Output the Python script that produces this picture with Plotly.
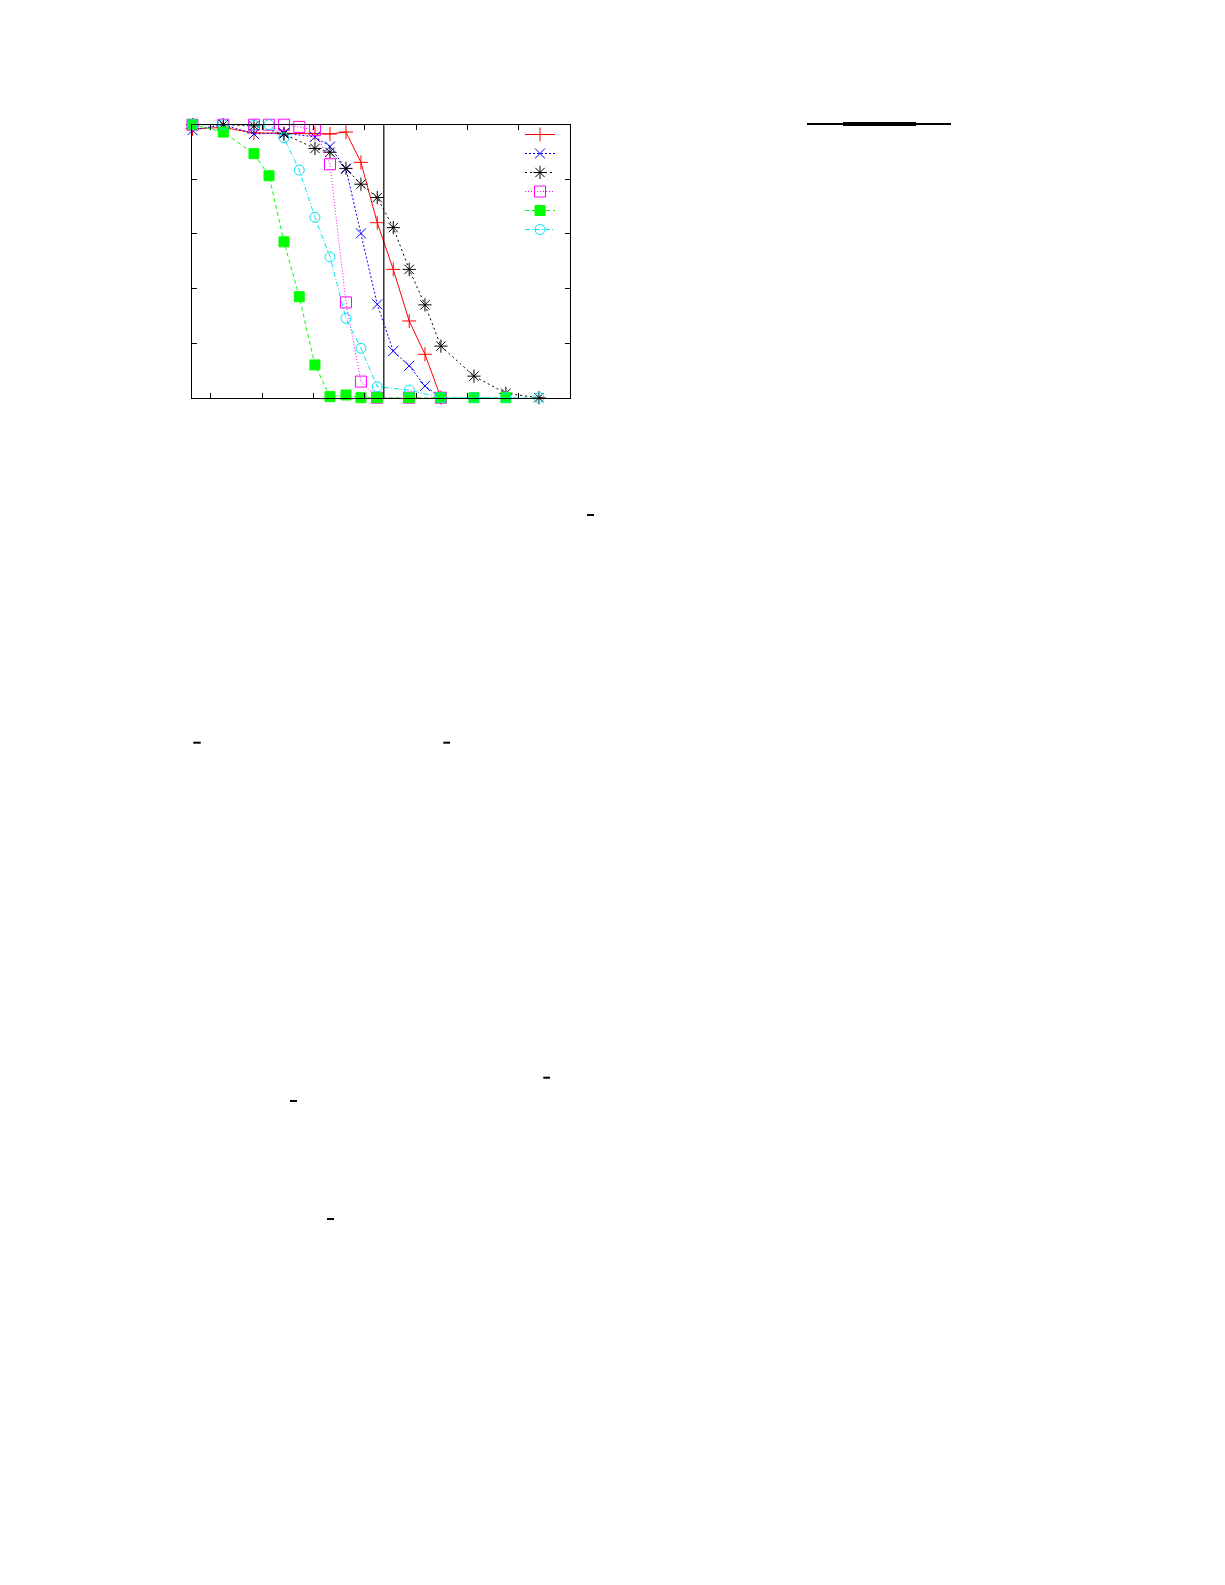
import plotly.graph_objects as go

# ---------------- data ----------------
red_x = [-3.61, 2.40, 8.38, 14.23, 20.27, 23.20, 26.32, 29.24, 32.42, 35.54, 38.65, 41.72, 44.83]
red_y = [0.985, 0.99, 0.97, 0.968, 0.968, 0.966, 0.973, 0.862, 0.641, 0.470, 0.281, 0.159, 0.0]

blue_x = [-3.61, 2.40, 8.38, 14.23, 20.27, 23.20, 26.32, 29.24, 32.42, 35.54, 38.65, 41.72, 44.83]
blue_y = [0.98, 1.0, 0.966, 0.97, 0.955, 0.92, 0.838, 0.602, 0.342, 0.171, 0.117, 0.043, 0.0]

black_x = [-3.61, 2.40, 8.38, 14.23, 20.27, 23.20, 26.32, 29.24, 32.42, 35.54, 38.65, 41.72, 44.83, 51.27, 57.50, 63.94]
black_y = [1.0, 1.0, 0.996, 0.966, 0.913, 0.899, 0.840, 0.782, 0.733, 0.623, 0.470, 0.340, 0.189, 0.079, 0.016, 0.0]

magenta_x = [-3.61, 2.40, 8.38, 11.31, 14.23, 17.21, 20.27, 23.20, 26.32, 29.24, 32.42, 38.65, 44.83]
magenta_y = [1.0, 1.0, 1.0, 1.0, 1.0, 0.992, 0.98, 0.855, 0.349, 0.059, 0.0, 0.0, 0.0]

green_x = [-3.61, 2.40, 8.38, 11.31, 14.23, 17.21, 20.27, 23.20, 26.32, 29.24, 32.42, 38.65, 44.83, 51.27, 57.50]
green_y = [1.0, 0.973, 0.894, 0.813, 0.571, 0.37, 0.12, 0.004, 0.01, 0.0, 0.0, 0.0, 0.0, 0.0, 0.0]

cyan_x = [-3.61, 2.40, 8.38, 11.31, 14.23, 17.21, 20.27, 23.20, 26.32, 29.24, 32.42, 38.65, 44.83, 51.27, 57.50, 63.94]
cyan_y = [1.0, 1.0, 0.998, 1.0, 0.952, 0.834, 0.661, 0.516, 0.291, 0.181, 0.04, 0.028, 0.0, 0.0, 0.0, 0.0]

x_ticks = [0, 10, 20, 30, 40, 50, 60, 70]
y_ticks = [0, 0.2, 0.4, 0.6, 0.8, 1.0]
vline_x = 33.7

# ---------------- figure ----------------
W, H = 1225, 1585
OFF = 8  # page body margin

def fx(p):
    return (p - OFF) / W

def fy(p):
    return 1 - (p - OFF) / H

series = [
    (red_x, red_y, "#ff0000", "solid", "cross-thin-open", 10),
    (blue_x, blue_y, "#0000ff", "2px,2px", "x-thin-open", 10),
    (black_x, black_y, "#000000", "2px,3px", "asterisk-open", 11),
    (magenta_x, magenta_y, "#ff00ff", "1px,2px", "square-open", 11),
    (green_x, green_y, "#00ff00", "4px,3px", "square", 10),
    (cyan_x, cyan_y, "#00e5ee", "5px,2px,1px,2px", "circle-open", 10),
]

fig = go.Figure()
for xs, ys, col, dash, sym, size in series:
    fig.add_trace(go.Scatter(
        x=xs, y=ys, mode="lines+markers", name=" ",
        line=dict(color=col, width=1, dash=dash),
        marker=dict(symbol=sym, size=size, color=col,
                    line=dict(color=col, width=1)),
        cliponaxis=False,
    ))

shapes = [
    dict(type="line", xref="x", yref="paper", x0=vline_x, x1=vline_x,
         y0=fy(397.7), y1=fy(124.7), line=dict(color="black", width=1.2)),
    # rule at top right
    dict(type="line", xref="paper", yref="paper", x0=fx(807), x1=fx(951),
         y0=fy(124), y1=fy(124), line=dict(color="black", width=2)),
    dict(type="line", xref="paper", yref="paper", x0=fx(843), x1=fx(916),
         y0=fy(124), y1=fy(124), line=dict(color="black", width=4)),
]
for (a, b, yy) in [(587, 594, 515), (193.3, 200.7, 742.7), (443.3, 450, 742.7),
                   (543.3, 550, 1077.7), (290, 297, 1101), (327, 334, 1219)]:
    shapes.append(dict(type="line", xref="paper", yref="paper", x0=fx(a), x1=fx(b),
                       y0=fy(yy), y1=fy(yy), line=dict(color="black", width=2)))

axis_common = dict(showgrid=False, zeroline=False, showline=True, linecolor="black",
                   linewidth=1.3, mirror="ticks", ticks="inside", ticklen=5,
                   tickcolor="black", tickwidth=1, showticklabels=False)

fig.update_layout(
    width=W, height=H, autosize=False,
    margin=dict(l=0, r=0, t=0, b=0),
    paper_bgcolor="white", plot_bgcolor="white",
    xaxis=dict(domain=[fx(191.7), fx(570)], range=[-3.76, 70],
               tickvals=x_ticks, **axis_common),
    yaxis=dict(domain=[fy(397.7), fy(124.7)], range=[0, 1],
               tickvals=y_ticks, **axis_common),
    showlegend=True,
    legend=dict(x=fx(520), y=fy(120), xanchor="left", yanchor="top",
                bgcolor="rgba(0,0,0,0)", borderwidth=0,
                font=dict(size=8, family="DejaVu Sans"),
                itemwidth=30, tracegroupgap=0),
    shapes=shapes,
)

fig.write_html("out.html")
